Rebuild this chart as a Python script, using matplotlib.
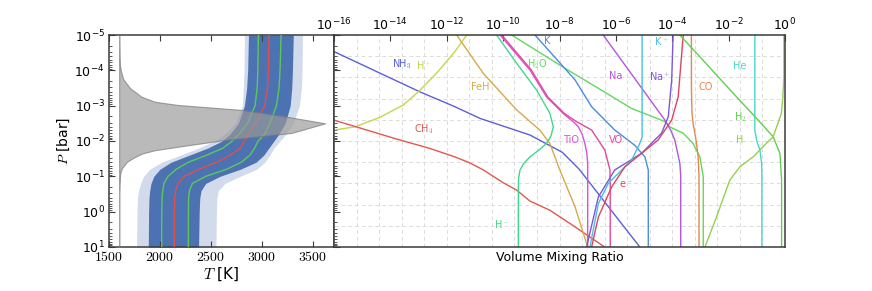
import numpy as np
import matplotlib
matplotlib.use("Agg")
import matplotlib.pyplot as plt
from matplotlib.ticker import FixedLocator, LogFormatterMathtext, NullLocator, NullFormatter, LogLocator, FuncFormatter

plt.rcParams['mathtext.fontset'] = 'cm'
plt.rcParams['font.family'] = ['DejaVu Sans']

# ---------------- Left panel data (temperature-pressure) ----------------
tp_logp = [-5, -4, -3.5, -3, -2.5, -2.2, -2.0, -1.8, -1.6, -1.4, -1.2, -1.0, -0.8, -0.6, -0.4, 0, 1]
tp_median = [3072, 3065, 3058, 3030, 2940, 2870, 2830, 2790, 2690, 2560, 2385, 2240, 2180, 2155, 2145, 2142, 2142]
tp_lo1 = [2967, 2962, 2955, 2935, 2860, 2780, 2710, 2620, 2460, 2280, 2160, 2080, 2040, 2028, 2022, 2018, 2017]
tp_hi1 = [3190, 3180, 3170, 3145, 3080, 3030, 2965, 2930, 2885, 2800, 2655, 2450, 2320, 2290, 2282, 2280, 2279]
tp_lo2 = [2870, 2862, 2852, 2830, 2770, 2690, 2610, 2470, 2290, 2110, 2000, 1940, 1912, 1900, 1893, 1889, 1886]
tp_hi2 = [3310, 3302, 3295, 3280, 3230, 3170, 3120, 3070, 3020, 2945, 2790, 2590, 2450, 2405, 2392, 2386, 2380]
tp_lo3 = [2830, 2826, 2820, 2810, 2740, 2640, 2540, 2380, 2200, 2020, 1900, 1840, 1810, 1790, 1780, 1775, 1770]
tp_hi3 = [3400, 3396, 3390, 3370, 3310, 3240, 3180, 3120, 3080, 3030, 2950, 2790, 2640, 2575, 2560, 2555, 2550]

# contribution function (gray), width in K above base temperature
cf_base = 1600
cf_logp = [-5, -4.5, -4.2, -4.0, -3.75, -3.5, -3.25, -3.11, -3.02, -2.88, -2.73, -2.5,
           -2.3, -2.23, -2.1, -2.03, -1.88, -1.74, -1.65, -1.55, -1.41, -1.22, -1.08, -0.8, -0.5, 1]
cf_width = [0, 2, 5, 15, 40, 105, 220, 352, 575, 1200, 1560, 2022,
            1780, 1694, 1270, 1040, 676, 352, 230, 155, 75, 25, 10, 3, 0, 0]

# ---------------- Right panel data (log10 VMR vs log10 P) ----------------
species = ["NH3", "H+", "CH4", "FeH", "H-", "TiO", "VO", "H2O", "K", "Na", "Na+", "K+", "e-", "CO", "He", "H2", "H"]

vmr_logx = {
    "NH3": [-16.5, -16, -12.95, -11.71, -10.82, -9.05, -7.9, -7.3, -6.13, -5.15, -5.05],
    "H+":  [-16.5, -16, -15.26, -14.37, -13.54, -13.01, -12.36, -11.71, -11.29, -11.2],
    "CH4": [-16.5, -16, -13.8, -12.6, -11.71, -11.18, -10.7, -10.0, -9.52, -9.05, -8.34, -7.45, -6.4, -6.2],
    "FeH": [-11.8, -11.65, -10.7, -9.52, -8.70, -8.34, -7.99, -7.45, -7.0, -6.95],
    "H-":  [-10.4, -10.23, -9.52, -8.81, -8.34, -8.22, -8.30, -8.46, -8.72, -9.05, -9.28, -9.40, -9.45, -9.46, -9.46],
    "TiO": [-10.2, -10.11, -9.05, -8.46, -7.87, -7.45, -7.33, -7.2, -7.10, -7.03, -7.0, -7.0],
    "VO":  [-10.15, -10.05, -9.0, -8.42, -7.83, -7.4, -6.86, -6.39, -6.21, -6.20, -6.20],
    "H2O": [-9.9, -9.7, -7.81, -6.62, -5.44, -4.26, -4.09, -3.61, -3.26, -3.02, -2.90, -2.90],
    "K":   [-9.0, -8.87, -7.45, -6.86, -6.04, -5.33, -4.97, -4.85, -4.85],
    "Na":  [-6.6, -6.45, -4.26, -4.05, -3.91, -3.73, -3.70, -3.70],
    "Na+": [-3.96, -3.97, -4.02, -4.14, -4.38, -5.09, -6.04, -6.62, -7.04, -7.1],
    "K+":  [-5.07, -5.07, -5.07, -5.18, -5.44, -6.27, -6.62, -6.92, -6.98],
    "e-":  [-3.6, -3.61, -3.79, -4.02, -4.5, -5.09, -5.68, -6.15, -6.62, -6.86, -6.9],
    "CO":  [-3.32, -3.32, -3.30, -3.26, -3.15, -3.08, -3.05, -3.05],
    "He":  [-1.07, -1.07, -1.0, -0.89, -0.83, -0.82, -0.82],
    "H2":  [-3.85, -3.73, -1.72, -1.01, -0.42, -0.18, -0.12, -0.12],
    "H":   [-0.04, -0.04, -0.08, -0.13, -0.42, -0.78, -1.13, -1.6, -1.96, -2.43, -2.84, -2.9],
}
vmr_logp = {
    "NH3": [-4.72, -4.53, -3.39, -2.97, -2.64, -2.17, -1.68, -1.2, 0.0, 1.0, 1.1],
    "H+":  [-2.26, -2.31, -2.40, -2.67, -3.02, -3.39, -3.92, -4.53, -5.0, -5.15],
    "CH4": [-2.71, -2.59, -2.06, -1.79, -1.55, -1.38, -1.18, -0.82, -0.61, -0.30, -0.04, 0.43, 1.0, 1.1],
    "FeH": [-5.15, -5.0, -3.91, -2.88, -2.31, -1.93, -1.18, -0.14, 1.0, 1.1],
    "H-":  [-5.2, -5.0, -4.2, -3.44, -2.78, -2.40, -2.15, -1.93, -1.75, -1.55, -1.35, -1.18, -0.95, -0.70, 1.1],
    "TiO": [-5.15, -5.0, -4.01, -3.25, -2.78, -2.50, -2.40, -2.2, -1.93, -1.65, -1.37, 1.1],
    "VO":  [-5.15, -5.0, -4.01, -3.25, -2.78, -2.55, -2.31, -1.74, -1.18, -0.8, 1.1],
    "H2O": [-5.15, -5.0, -4.06, -3.49, -2.92, -2.55, -2.40, -2.22, -1.93, -1.55, -0.99, 1.1],
    "K":   [-5.15, -5.0, -3.73, -2.97, -2.31, -1.88, -1.55, -1.18, 1.1],
    "Na":  [-5.15, -5.0, -2.59, -2.3, -2.03, -1.37, -1.0, 1.1],
    "Na+": [-5.15, -5.0, -3.73, -2.69, -2.22, -1.65, -1.18, -0.42, 1.0, 1.1],
    "K+":  [-5.15, -3.0, -2.1, -1.88, -1.46, -0.8, -0.23, 1.0, 1.1],
    "e-":  [-5.15, -5.0, -3.25, -2.59, -2.03, -1.65, -1.27, -0.70, 0.15, 1.0, 1.1],
    "CO":  [-5.15, -3.5, -2.8, -2.50, -2.0, -1.55, -1.0, 1.1],
    "He":  [-5.15, -2.3, -2.0, -1.74, -1.37, -1.0, 1.1],
    "H2":  [-5.15, -5.0, -3.25, -2.64, -2.12, -1.65, -0.89, 1.1],
    "H":   [-5.15, -3.8, -3.2, -2.78, -2.12, -1.84, -1.55, -1.27, -0.89, 0.15, 1.0, 1.1],
}
colors = {
    "NH3": "#5a5fd8", "H+": "#c6d64a", "CH4": "#e0584e", "FeH": "#d6aa4a",
    "H-": "#3fd98c", "TiO": "#dc50d8", "VO": "#e0489e", "H2O": "#62d85e",
    "K": "#4b8be0", "Na": "#b455e0", "Na+": "#7c55e0", "K+": "#45c1e0",
    "e-": "#e0435f", "CO": "#e2894a", "He": "#47d6cc", "H2": "#5fd050", "H": "#96d04c",
}
label_text = {
    "NH3": "NH$_3$", "H+": "H$^+$", "CH4": "CH$_4$", "FeH": "FeH", "H-": "H$^-$",
    "TiO": "TiO", "VO": "VO", "H2O": "H$_2$O", "K": "K", "Na": "Na", "Na+": "Na$^+$",
    "K+": "K$^+$", "e-": "e$^-$", "CO": "CO", "He": "He", "H2": "H$_2$", "H": "H",
}
# label anchor positions (log10 VMR, log10 P)
label_pos = {
    "NH3": (-13.6, -4.18), "H+": (-12.81, -4.16), "CH4": (-12.81, -2.34), "FeH": (-10.8, -3.52),
    "H-": (-10.03, 0.36), "TiO": (-7.58, -2.03), "VO": (-6.01, -2.03), "H2O": (-8.79, -4.18),
    "K": (-8.42, -4.83), "Na": (-6.01, -3.84), "Na+": (-4.44, -3.84), "K+": (-4.38, -4.83),
    "e-": (-5.62, -0.78), "CO": (-2.81, -3.52), "He": (-1.6, -4.13), "H2": (-1.6, -2.67),
    "H": (-1.6, -2.03),
}

# ---------------- Figure ----------------
W, H = 872, 291
fig = plt.figure(figsize=(W / 100, H / 100), dpi=100)
lx0, lx1, rx1 = 109 / W, 334 / W, 785 / W
yb, yt = 1 - 247 / H, 1 - 35 / H
axL = fig.add_axes([lx0, yb, lx1 - lx0, yt - yb])
axR = fig.add_axes([lx1, yb, rx1 - lx1, yt - yb], sharey=axL)

spine_col = "#3a3a3a"
blue = "#4c72b2"

P = 10.0 ** np.array(tp_logp)
axL.fill_betweenx(P, tp_lo3, tp_hi3, color=blue, alpha=0.25, lw=0, zorder=1)
axL.fill_betweenx(P, tp_lo2, tp_hi2, color=blue, alpha=1.0, lw=0, zorder=1)
axL.plot(tp_lo1, P, color="#5cc85c", lw=1.0, zorder=3)
axL.plot(tp_hi1, P, color="#5cc85c", lw=1.0, zorder=3)
axL.plot(tp_median, P, color="#e0504a", lw=1.0, zorder=3)

Pcf = 10.0 ** np.array(cf_logp)
axL.fill_betweenx(Pcf, cf_base, cf_base + np.array(cf_width), facecolor="#9a9a9a", alpha=0.68,
                  edgecolor="#777777", lw=0.8, zorder=4)

axL.set_yscale("log")
axL.set_ylim(10, 1e-5)
axL.set_xlim(1500, 3710)
axL.xaxis.set_major_locator(FixedLocator([1500, 2000, 2500, 3000, 3500]))
axL.xaxis.set_major_formatter(FuncFormatter(lambda v, pos: "$%d$" % int(round(v))))
axL.yaxis.set_major_locator(FixedLocator([10.0 ** k for k in range(-5, 2)]))
axL.yaxis.set_major_formatter(LogFormatterMathtext())
axL.yaxis.set_minor_locator(LogLocator(base=10, subs=np.arange(2, 10), numticks=20))
axL.yaxis.set_minor_formatter(NullFormatter())
axL.tick_params(axis="both", which="both", direction="in", top=True, bottom=True,
                left=True, right=False, labelsize=9, color=spine_col, pad=3)
axL.tick_params(axis="x", labelsize=10, pad=2.5)
axL.tick_params(which="major", length=4, width=0.8)
axL.tick_params(which="minor", length=2, width=0.6)
axL.set_xlabel("$T$ [K]", fontsize=11, labelpad=1)
axL.set_ylabel("$P$ [bar]", fontsize=10, labelpad=2)

# right panel grid
for k in range(1, 20):
    axR.axvline(10.0 ** (-16 + 0.8 * k), color="#dcdcdc", lw=0.7, ls=(0, (4, 3)), zorder=0)
for k in range(1, 10):
    axR.axhline(10.0 ** (-5 + 0.6 * k), color="#dcdcdc", lw=0.7, ls=(0, (4, 3)), zorder=0)

for sp in species:
    axR.plot(10.0 ** np.array(vmr_logx[sp]), 10.0 ** np.array(vmr_logp[sp]),
             color=colors[sp], lw=1.0, zorder=2)
    lxp, lpp = label_pos[sp]
    axR.text(10.0 ** lxp, 10.0 ** lpp, label_text[sp], color=colors[sp], fontsize=7,
             ha="center", va="center", zorder=3)

axR.set_xscale("log")
axR.set_xlim(1e-16, 1e0)
axR.xaxis.set_major_locator(FixedLocator([10.0 ** k for k in range(-16, 1, 2)]))
axR.xaxis.set_major_formatter(LogFormatterMathtext())
axR.xaxis.set_minor_locator(NullLocator())
axR.tick_params(axis="x", which="both", direction="in", top=True, bottom=False,
                labeltop=True, labelbottom=False, labelsize=9, length=4, width=0.8,
                color=spine_col, pad=1.5)
axR.tick_params(axis="y", which="both", direction="in", left=True, right=False,
                labelleft=False, color=spine_col)
axR.tick_params(axis="y", which="major", length=4, width=0.8)
axR.tick_params(axis="y", which="minor", length=2, width=0.6)
axR.xaxis.set_label_position("bottom")
axR.set_xlabel("Volume Mixing Ratio", fontsize=9, labelpad=3)

for ax in (axL, axR):
    for s in ax.spines.values():
        s.set_color(spine_col)
        s.set_linewidth(1.1)

fig.savefig("out.png", dpi=100)
